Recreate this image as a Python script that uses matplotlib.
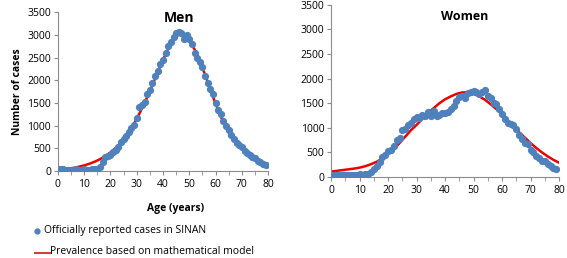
import numpy as np
import matplotlib.pyplot as plt
from matplotlib.lines import Line2D

# reported cases (SINAN), ages 1..79
ages = list(range(1, 80))
men_cases = [40, 35, 30, 30, 25, 30, 35, 30, 30, 35, 30, 30, 35, 40, 50, 100, 200, 300, 330, 350,
             420, 470, 520, 640, 700, 780, 850, 950, 1020, 1170, 1400, 1450, 1530, 1700, 1780, 1950, 2100, 2200, 2350, 2450,
             2600, 2750, 2850, 2950, 3050, 3060, 3040, 2900, 3000, 2900, 2800, 2600, 2500, 2400, 2300, 2100, 1950, 1800, 1700, 1500,
             1350, 1250, 1100, 1000, 900, 800, 700, 620, 570, 520, 450, 400, 350, 320, 280, 230, 190, 150, 130]
women_cases = [40, 45, 40, 50, 45, 40, 45, 50, 45, 55, 50, 55, 60, 100, 170, 230, 300, 400, 450, 530,
               550, 630, 750, 800, 950, 980, 1050, 1100, 1180, 1230, 1200, 1270, 1250, 1320, 1250, 1350, 1250, 1260, 1300, 1310,
               1330, 1380, 1450, 1550, 1620, 1650, 1600, 1700, 1730, 1750, 1720, 1680, 1720, 1760, 1650, 1600, 1500, 1480, 1380, 1280,
               1180, 1100, 1080, 1050, 980, 850, 780, 700, 680, 550, 500, 430, 380, 330, 320, 270, 230, 180, 160]

# model prevalence, read every 2 years
model_ages = list(range(0, 82, 2))
men_model = [30, 40, 55, 70, 95, 125, 160, 205, 260, 330, 410, 510, 630, 780, 950, 1150, 1380, 1630, 1900, 2180,
             2450, 2700, 2900, 3010, 2980, 2870, 2680, 2430, 2120, 1800, 1480, 1200, 960, 760, 600, 480, 390, 310, 250, 190, 150]
women_model = [110, 125, 140, 155, 170, 190, 220, 260, 310, 380, 470, 570, 690, 820, 950, 1060, 1180, 1300, 1400, 1500,
               1580, 1640, 1690, 1720, 1720, 1690, 1640, 1570, 1480, 1380, 1270, 1150, 1030, 910, 800, 690, 590, 500, 420, 350, 290]

blue = '#4F81BD'
red = '#EE0000'
plt.rcParams['font.family'] = ['Open Sans', 'DejaVu Sans']

fig = plt.figure(figsize=(5.67, 2.58), dpi=100)
ax1 = fig.add_axes([0.102, 0.337, 0.371, 0.616])
ax2 = fig.add_axes([0.584, 0.314, 0.402, 0.667])

for ax, cases, model in [(ax1, men_cases, men_model), (ax2, women_cases, women_model)]:
    ax.plot(model_ages, model, color=red, lw=1.8, zorder=2)
    ax.plot(ages, cases, 'o', color=blue, ms=4.2, zorder=3)
    ax.set_xlim(0, 80)
    ax.set_ylim(0, 3500)
    ax.set_xticks(range(0, 81, 10))
    ax.set_xticks(range(0, 81, 5), minor=True)
    ax.set_yticks(range(0, 3501, 500))
    for s in ['top', 'right']:
        ax.spines[s].set_visible(False)
    for s in ['left', 'bottom']:
        ax.spines[s].set_color('#8c8c8c')
    ax.tick_params(which='both', direction='out', length=3, color='#8c8c8c', labelsize=7.5, pad=2)
    ax.tick_params(axis='x', pad=3)

ax1.text(46, 3360, 'Men', ha='center', va='center', fontsize=10, fontweight='bold')
ax2.text(47, 3270, 'Women', ha='center', va='center', fontsize=9, fontweight='bold')
ax1.set_ylabel('Number of cases', fontsize=7.5, fontweight='bold', labelpad=3)
fig.text(176 / 567, 1 - 208 / 258, 'Age (years)', ha='center', va='center', fontsize=7.5, fontweight='bold')

# legend below the left chart
fig.add_artist(Line2D([37 / 567], [1 - 231 / 258], marker='o', color=blue, ms=3.5, ls='none'))
fig.text(44 / 567, 1 - 231 / 258, 'Officially reported cases in SINAN', ha='left', va='center', fontsize=7.5)
fig.add_artist(Line2D([35 / 567, 50 / 567], [1 - 253 / 258] * 2, color='#D04040', lw=1.5))
fig.text(50 / 567, 1 - 252 / 258, 'Prevalence based on mathematical model', ha='left', va='center', fontsize=7.5)

fig.savefig('out.png', dpi=100)
